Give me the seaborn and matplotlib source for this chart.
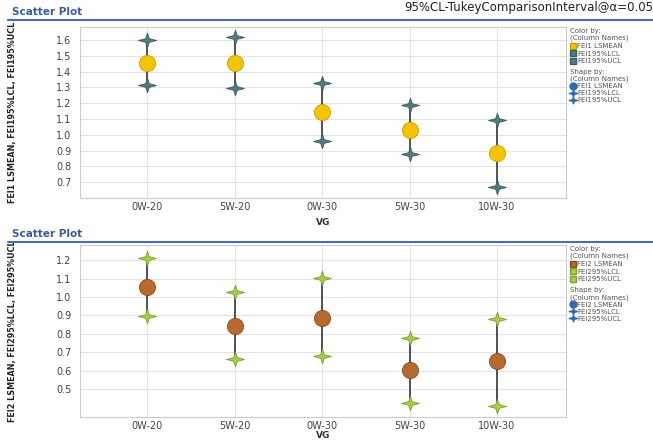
import pandas as pd
import seaborn as sns
import matplotlib.pyplot as plt
from matplotlib.lines import Line2D
from matplotlib.path import Path

# categorias del eje x
vg = ['0W-20', '5W-20', '0W-30', '5W-30', '10W-30']

# FEI1 (panel superior)
fei1_mean = [1.456, 1.452, 1.146, 1.031, 0.884]
fei1_lcl = [1.317, 1.294, 0.963, 0.877, 0.672]
fei1_ucl = [1.600, 1.617, 1.326, 1.189, 1.094]
fei1_ticks = [0.7, 0.8, 0.9, 1.0, 1.1, 1.2, 1.3, 1.4, 1.5, 1.6]

# FEI2 (panel inferior)
fei2_mean = [1.055, 0.844, 0.889, 0.603, 0.651]
fei2_lcl = [0.898, 0.666, 0.680, 0.425, 0.410]
fei2_ucl = [1.214, 1.027, 1.104, 0.778, 0.880]
fei2_ticks = [0.5, 0.6, 0.7, 0.8, 0.9, 1.0, 1.1, 1.2]

sns.set_theme(style='whitegrid')
plt.rcParams['font.family'] = ['DejaVu Sans']

fig = plt.figure(figsize=(6.53, 4.44), dpi=100)
blue_hdr = '#4a6fa5'

# estrella de 4 puntas, algo mas ancha que alta
r = 0.2
h = 0.8
star = Path([(0, h), (r, r), (1, 0), (r, -r), (0, -h), (-r, -r), (-1, 0), (-r, r), (0, h)],
            [Path.MOVETO] + [Path.LINETO] * 7 + [Path.CLOSEPOLY])


def panel(rect, name, mean, lcl, ucl, ticks, ylim, c_mean, e_mean, c_ci, e_ci, xpad):
    ax = fig.add_axes(rect)
    df = pd.DataFrame({'VG': vg, 'mean': mean, 'lcl': lcl, 'ucl': ucl})
    xs = list(range(len(vg)))
    ax.vlines(xs, df['lcl'], df['ucl'], color='#444444', lw=1.3, zorder=2)
    sns.scatterplot(data=df, x='VG', y='lcl', ax=ax, marker=star, s=170,
                    color=c_ci, edgecolor=e_ci, linewidth=0.6, zorder=3, legend=False)
    sns.scatterplot(data=df, x='VG', y='ucl', ax=ax, marker=star, s=170,
                    color=c_ci, edgecolor=e_ci, linewidth=0.6, zorder=3, legend=False)
    sns.scatterplot(data=df, x='VG', y='mean', ax=ax, marker='o', s=135,
                    color=c_mean, edgecolor=e_mean, linewidth=0.6, zorder=4, legend=False)
    ax.set_xlim(-0.77, 4.79)
    ax.set_ylim(*ylim)
    ax.set_yticks(ticks)
    ax.set_yticklabels([f'{t:.1f}' for t in ticks])
    ax.set_xticks(xs)
    ax.set_xticklabels(vg)
    ax.tick_params(axis='y', length=0, labelsize=7, colors='#444444', pad=6)
    ax.tick_params(axis='x', length=0, labelsize=7, colors='#444444', pad=3)
    ax.grid(True, color='#e4e4e4', lw=0.8)
    for sp in ax.spines.values():
        sp.set_color('#cccccc')
        sp.set_linewidth(0.8)
    ax.set_xlabel('VG', fontsize=6.5, fontweight='bold', color='#333333', labelpad=xpad)
    ax.set_ylabel(f'{name} LSMEAN, {name}95%LCL, {name}95%UCL', fontsize=5.8,
                  fontweight='bold', color='#222222', labelpad=28)

    # leyenda: color
    h_color = [
        Line2D([], [], ls='', marker='s', ms=5, mfc=c_mean, mec=e_mean, label=f'{name} LSMEAN'),
        Line2D([], [], ls='', marker='s', ms=5, mfc=c_ci, mec=e_ci, label=f'{name}95%LCL'),
        Line2D([], [], ls='', marker='s', ms=5, mfc=c_ci, mec=e_ci, label=f'{name}95%UCL'),
    ]
    leg1 = ax.legend(handles=h_color, title='Color by:\n(Column Names)', loc='upper left',
                     bbox_to_anchor=(1.0, 1.02), frameon=False, fontsize=5, title_fontsize=5,
                     handlelength=0.8, handletextpad=0.2, labelspacing=0.25,
                     borderaxespad=0.2, alignment='left', labelcolor='#555555')
    leg1.get_title().set_color('#555555')
    ax.add_artist(leg1)
    # leyenda: forma
    h_shape = [
        Line2D([], [], ls='', marker='o', ms=5, mfc='#2e6db4', mec='#2e6db4', label=f'{name} LSMEAN'),
        Line2D([], [], ls='', marker=star, ms=6, mfc='#2e6db4', mec='#2e6db4', label=f'{name}95%LCL'),
        Line2D([], [], ls='', marker=star, ms=6, mfc='#2e6db4', mec='#2e6db4', label=f'{name}95%UCL'),
    ]
    leg2 = ax.legend(handles=h_shape, title='Shape by:\n(Column Names)', loc='upper left',
                     bbox_to_anchor=(1.0, 0.78), frameon=False, fontsize=5, title_fontsize=5,
                     handlelength=0.8, handletextpad=0.2, labelspacing=0.15,
                     borderaxespad=0.2, alignment='left', labelcolor='#555555')
    leg2.get_title().set_color('#555555')
    return ax


def header(y_text, y_line):
    fig.text(12 / 653, 1 - y_text / 444, 'Scatter Plot', fontsize=7.5, color='#3a5c9a',
             fontweight='bold', va='center', ha='left')
    fig.add_artist(Line2D([8 / 653, 1.0], [1 - y_line / 444] * 2, color=blue_hdr, lw=1.5))


header(12, 20)
header(234, 242)
fig.text(1.0, 1 - 8 / 444, '95%CL-TukeyComparisonInterval@\u03b1=0.05', fontsize=8.5,
         color='#222222', ha='right', va='center')

panel([80 / 653, 1 - 198 / 444, 486 / 653, 171 / 444], 'FEI1',
      fei1_mean, fei1_lcl, fei1_ucl, fei1_ticks, (0.60, 1.682),
      '#f5c400', '#c9a000', '#4f7c7e', '#3b5e60', 4)
panel([80 / 653, 1 - 417 / 444, 486 / 653, 172 / 444], 'FEI2',
      fei2_mean, fei2_lcl, fei2_ucl, fei2_ticks, (0.35, 1.282),
      '#b86a2e', '#8b4a1a', '#a6ce48', '#7fa030', 0)

fig.savefig('out.png', dpi=100)
